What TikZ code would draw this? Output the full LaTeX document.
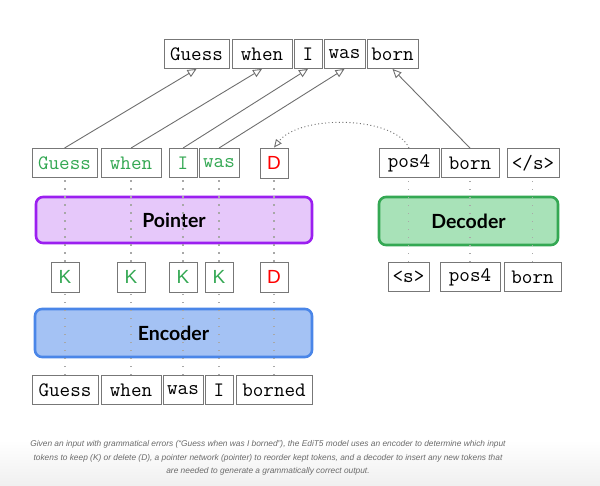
\documentclass[tikz,border=0pt]{standalone}
\usepackage{fontspec}
\setmainfont{Lato}
\newfontfamily\lettf{Liberation Sans}
\usetikzlibrary{arrows.meta}
\definecolor{boxgray}{HTML}{777777}
\definecolor{linegray}{HTML}{6E6E6E}
\definecolor{dotgray}{HTML}{A8A8A8}
\definecolor{kgreen}{HTML}{34A853}
\definecolor{dred}{HTML}{FF0000}
\definecolor{ptrfill}{HTML}{E6C8FA}
\definecolor{ptrdraw}{HTML}{9B1FF0}
\definecolor{encfill}{HTML}{A4C2F4}
\definecolor{encdraw}{HTML}{4A86E8}
\definecolor{decfill}{HTML}{A8E2B8}
\definecolor{decdraw}{HTML}{34A853}
\definecolor{capgray}{HTML}{6A6A6A}
\tikzset{
  tok/.style={draw=boxgray, line width=0.9pt, fill=white, inner sep=0pt, minimum height=29pt,
    font=\ttfamily\fontsize{20.5}{20.5}\selectfont},
  gtok/.style={tok, text=kgreen},
  ktok/.style={draw=boxgray, line width=0.9pt, fill=white, inner sep=0pt, minimum height=30pt,
    minimum width=28pt, font=\lettf\fontsize{19}{19}\selectfont},
  bigbox/.style={rounded corners=7pt, line width=2.6pt, inner sep=0pt,
    font=\bfseries\fontsize{19.5}{19.5}\selectfont},
  arr/.style={draw=linegray, line width=0.9pt, -{Triangle[open,length=9pt,width=8pt]}},
  dots/.style={draw=dotgray, line width=1.6pt, dash pattern=on 1.5pt off 6.5pt},
}
\begin{document}
\begin{tikzpicture}[x=1pt,y=-1pt]
\useasboundingbox (0,0) rectangle (600,486);
\shade[top color=white, bottom color=black!6] (0,440) rectangle (600,486);
% top row
\node[tok, minimum width=65pt] (tGuess) at (196.5,54) {Guess};
\node[tok, minimum width=60pt] (tWhen) at (262,54) {when};
\node[tok, minimum width=28pt] (tI) at (308,54) {I};
\node[tok, minimum width=41pt] (tWas) at (344.5,54) {was};
\node[tok, minimum width=51pt] (tBorn) at (392.5,54) {born};
% middle row
\node[gtok, minimum width=65pt] (mGuess) at (64.5,163) {Guess};
\node[gtok, minimum width=60pt] (mWhen) at (131,163) {when};
\node[gtok, minimum width=28pt] (mI) at (183,163) {I};
\node[gtok, minimum width=40pt] (mWas) at (219,163) {was};
\node[ktok, text=dred] (mD) at (274,163) {D};
\node[tok, minimum width=60pt] (mPos) at (409,163) {pos4};
\node[tok, minimum width=58pt] (mBorn) at (470,163) {born};
\node[tok, minimum width=52pt] (mEnd) at (533,163) {</s>};
% big boxes
\node[bigbox, fill=ptrfill, draw=ptrdraw, minimum width=276pt, minimum height=46pt] (ptr) at (174,220) {Pointer};
\node[bigbox, fill=decfill, draw=decdraw, minimum width=179pt, minimum height=48pt] (dec) at (468.5,221) {Decoder};
\node[bigbox, fill=encfill, draw=encdraw, minimum width=277pt, minimum height=48pt] (enc) at (173.5,333) {Encoder};
% K row
\node[ktok, text=kgreen] (k1) at (65,277) {K};
\node[ktok, text=kgreen] (k2) at (131,277) {K};
\node[ktok, text=kgreen] (k3) at (183,277) {K};
\node[ktok, text=kgreen] (k4) at (219,277) {K};
\node[ktok, text=dred] (kD) at (274,277) {D};
% decoder inputs
\node[tok, minimum width=41pt] (dS) at (408.5,277) {<s>};
\node[tok, minimum width=60pt] (dPos) at (470,277) {pos4};
\node[tok, minimum width=57pt] (dBorn) at (532.5,277) {born};
% bottom row
\node[tok, minimum width=66pt] (bGuess) at (65,390) {Guess};
\node[tok, minimum width=60pt] (bWhen) at (131,390) {when};
\node[tok, minimum width=40pt] (bWas) at (183,390) {was};
\node[tok, minimum width=28pt] (bI) at (219,390) {I};
\node[tok, minimum width=76pt] (bBorned) at (274,390) {borned};
% dotted verticals
\foreach \b/\k/\m in {bGuess/k1/mGuess, bWhen/k2/mWhen, bWas/k3/mI, bI/k4/mWas, bBorned/kD/mD}{
  \draw[dots] (\b.north) -- (\b.north |- \k.south);
  \draw[dots] (\b.north |- \k.north) -- (\b.north |- \m.south);
}
\foreach \d/\m in {dS/mPos, dPos/mBorn, dBorn/mEnd}{
  \draw[dots] (\d.north) -- (\d.north |- \m.south);
}
% arrows to output
\draw[arr] (mGuess.north) -- (tGuess.south);
\draw[arr] (mWhen.north) -- (tWhen.south);
\draw[arr] (mI.north) -- (tI.south);
\draw[arr] (mWas.north) -- (tWas.south);
\draw[arr] (mBorn.north) -- (tBorn.south);
% pointer curve
\draw[draw=linegray, line width=0.9pt, dash pattern=on 1pt off 2.5pt, -{Triangle[open,length=8pt,width=7pt]}]
  (mPos.north) .. controls (395,116) and (300,114) .. (mD.north);
% caption
\node[font=\lettf\itshape\fontsize{8.35}{13.5}\selectfont, text=capgray, align=center] (cap) at (268,458)
 {Given an input with grammatical errors (“Guess when was I borned”), the EdiT5 model uses an encoder to determine which input\\
  tokens to keep (K) or delete (D), a pointer network (pointer) to reorder kept tokens, and a decoder to insert any new tokens that\\
  are needed to generate a grammatically correct output.};
\end{tikzpicture}
\end{document}
